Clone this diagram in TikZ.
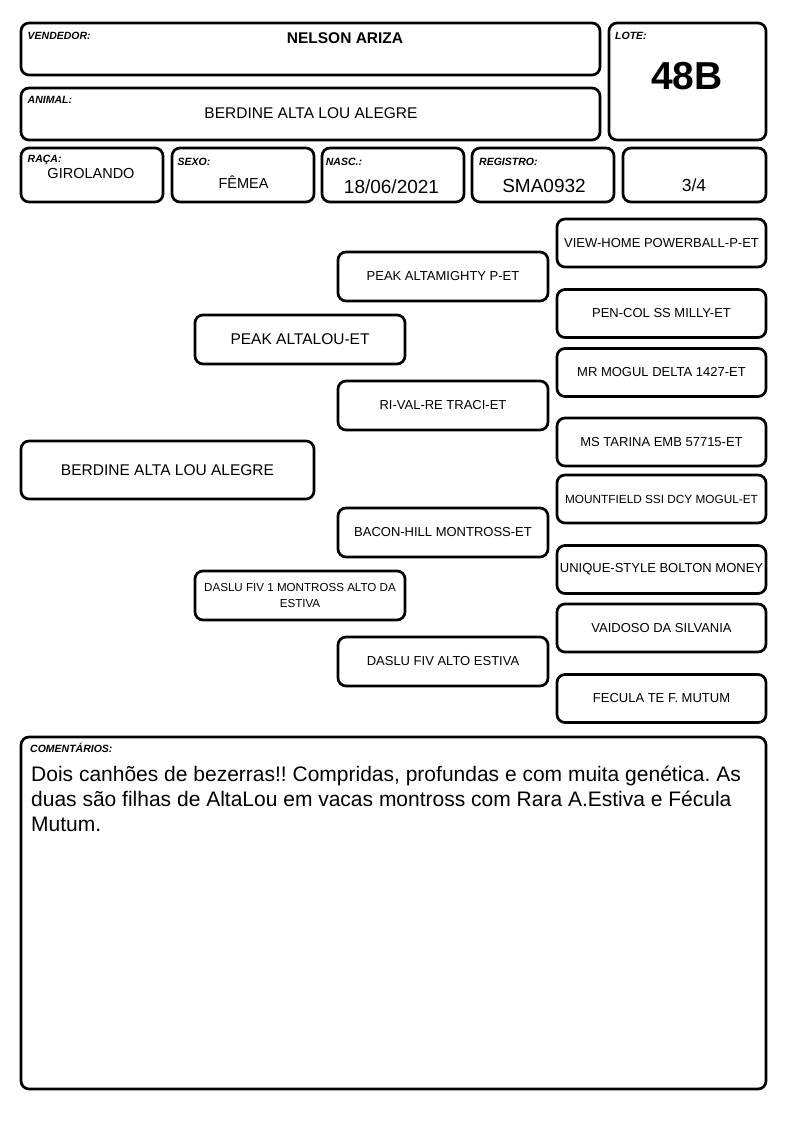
\documentclass[tikz,border=0pt]{standalone}
\usepackage{fontspec}
\setmainfont{Liberation Sans}
\frenchspacing
\newcommand{\fsz}[2]{\fontsize{#1}{#2}\selectfont}
\begin{document}
\frenchspacing
\begin{tikzpicture}[x=1pt,y=-1pt,
  box/.style={draw, line width=2.7pt, rounded corners=8pt, inner sep=0pt, align=center},
  lbl/.style={anchor=base west, inner sep=0pt, font=\fsz{10.5}{12}\bfseries\itshape},
  val/.style={anchor=base, inner sep=0pt},
  ped/.style={box, minimum width=210pt, minimum height=49pt, font=\fsz{13}{16}},
  pedr/.style={box, minimum width=209pt, minimum height=48pt, font=\fsz{13}{16}}]
\useasboundingbox (0,0) rectangle (794,1123);
% header
\node[box, minimum width=579pt, minimum height=52pt] (vend) at (310.5,49) {};
\node[lbl] (vendl) at (27.5,39.5) {VENDEDOR:};
\node[val, font=\fsz{15.5}{18}\bfseries] (vendv) at (345,43.5) {NELSON ARIZA};
\node[box, minimum width=579pt, minimum height=52pt] (anim) at (310.5,114) {};
\node[lbl] (animl) at (27.5,103.5) {ANIMAL:};
\node[val, font=\fsz{15.5}{18}] (animv) at (311,119) {BERDINE ALTA LOU ALEGRE};
\node[box, minimum width=157pt, minimum height=117pt] (lote) at (687.5,81.5) {};
\node[lbl] (lotel) at (615,39.5) {LOTE:};
\node[val, font=\fsz{39}{44}\bfseries] (lotev) at (687,90) {48B};
% row 3
\node[box, minimum width=142pt, minimum height=54pt] (raca) at (92,175) {};
\node[lbl] (racal) at (27.5,163) {RAÇA:};
\node[val, font=\fsz{14.5}{17}] (racav) at (91,178.5) {GIROLANDO};
\node[box, minimum width=142pt, minimum height=54pt] (sexo) at (243,175) {};
\node[lbl] (sexol) at (177.5,165.3) {SEXO:};
\node[val, font=\fsz{14.5}{17}] (sexov) at (243.5,189) {FÊMEA};
\node[box, minimum width=142pt, minimum height=54pt] (nasc) at (393,175) {};
\node[lbl] (nascl) at (325.7,165.3) {NASC.:};
\node[val, font=\fsz{19}{22}] (nascv) at (391.5,193.3) {18/06/2021};
\node[box, minimum width=142pt, minimum height=54pt] (reg) at (543,175) {};
\node[lbl] (regl) at (479,165.3) {REGISTRO:};
\node[val, font=\fsz{19}{22}] (regv) at (544,192.5) {SMA0932};
\node[box, minimum width=143pt, minimum height=54pt] (frac) at (694.5,175) {};
\node[val, font=\fsz{17.5}{20}] (fracv) at (694,192) {3/4};
% pedigree
\node[box, minimum width=293pt, minimum height=58pt, font=\fsz{15.5}{18}] (p0) at (167.5,470) {BERDINE ALTA LOU ALEGRE};
\node[ped, font=\fsz{15.5}{18}] (s) at (300,339.5) {PEAK ALTALOU-ET};
\node[ped, font=\fsz{11.6}{16}] (d) at (300,595.5) {DASLU FIV 1 MONTROSS ALTO DA\\ESTIVA};
\node[ped] (ss) at (443,276.5) {PEAK ALTAMIGHTY P-ET};
\node[ped] (sd) at (443,405.5) {RI-VAL-RE TRACI-ET};
\node[ped] (ds) at (443,532.5) {BACON-HILL MONTROSS-ET};
\node[ped] (dd) at (443,661.5) {DASLU FIV ALTO ESTIVA};
\node[pedr] (sss) at (661.5,243) {VIEW-HOME POWERBALL-P-ET};
\node[pedr] (ssd) at (661.5,313.5) {PEN-COL SS MILLY-ET};
\node[pedr] (sds) at (661.5,372.5) {MR MOGUL DELTA 1427-ET};
\node[pedr] (sdd) at (661.5,442) {MS TARINA EMB 57715-ET};
\node[pedr, font=\fsz{11.8}{14}] (dss) at (661.5,499) {MOUNTFIELD SSI DCY MOGUL-ET};
\node[pedr] (dsd) at (661.5,569.5) {UNIQUE-STYLE BOLTON MONEY};
\node[pedr] (dds) at (661.5,628) {VAIDOSO DA SILVANIA};
\node[pedr] (ddd) at (661.5,698.5) {FECULA TE F. MUTUM};
% comments
\node[box, minimum width=745pt, minimum height=352pt] (com) at (393.5,913) {};
\node[lbl] (coml) at (30,752.7) {COMENTÁRIOS:};
\node[anchor=base west, inner sep=0pt, align=left, font=\fsz{21}{25}] (comv) at (31,831.7)
  {Dois canhões de bezerras!! Compridas, profundas e com muita genética. As\\
   duas são filhas de AltaLou em vacas montross com Rara A.Estiva e Fécula\\
   Mutum.};
\end{tikzpicture}
\end{document}
